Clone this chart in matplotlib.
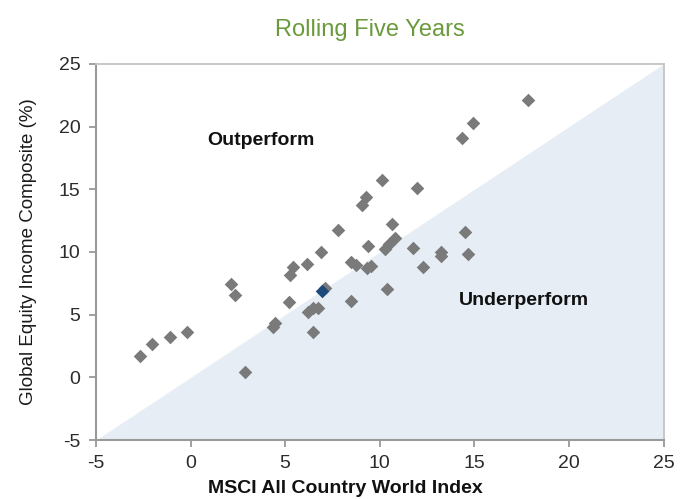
import numpy as np
import matplotlib
matplotlib.use('Agg')
import matplotlib.pyplot as plt

# MSCI ACWI (x) vs Global Equity Income Composite (y), rolling five-year returns (%)
msci = [-2.66, -2.04, -1.11, -0.16, 2.13, 2.35, 2.88, 4.35, 4.47, 5.23,
        5.26, 5.43, 6.13, 6.90, 7.77, 6.23, 6.49, 6.74, 6.49, 7.13,
        8.48, 8.48, 8.76, 9.30, 9.54, 9.40, 9.06, 9.25, 10.14, 10.27,
        10.51, 10.66, 10.80, 10.36, 11.95, 11.74, 12.30, 13.23, 13.23, 14.50,
        14.67, 14.36, 14.94, 17.84]
composite = [1.70, 2.66, 3.20, 3.62, 7.45, 6.60, 0.43, 4.00, 4.31, 6.05,
             8.17, 8.83, 9.05, 10.03, 11.76, 5.24, 5.51, 5.57, 3.62, 7.13,
             6.09, 9.23, 8.93, 8.70, 8.89, 10.50, 13.73, 14.39, 15.75, 10.24,
             10.64, 12.21, 11.15, 7.05, 15.14, 10.35, 8.78, 10.00, 9.69, 11.60,
             9.82, 19.05, 20.32, 22.13]

# highlighted (latest) period
latest_x = [6.97]
latest_y = [6.89]

ticks = [-5, 0, 5, 10, 15, 20, 25]

plt.rcParams['axes.unicode_minus'] = False
narrow = ['Liberation Sans Narrow', 'Liberation Sans', 'DejaVu Sans']
plain = ['Liberation Sans', 'DejaVu Sans']

fig = plt.figure(figsize=(6.8, 4.99), dpi=100)
ax = fig.add_axes([0.141, 0.118, 0.835, 0.754])

# shaded underperform triangle below the 45 degree line
diag = np.array([-5, 25])
ax.fill_between(diag, -5, diag, color='#e6edf5', linewidth=0, zorder=0)

ax.scatter(msci, composite, marker='D', s=48, color='#7a7a7a', linewidths=0, zorder=2)
ax.scatter(latest_x, latest_y, marker='D', s=48, color='#1d4a7c', linewidths=0, zorder=3)

ax.set_xlim(-5, 25)
ax.set_ylim(-5, 25)
ax.set_xticks(ticks)
ax.set_yticks(ticks)
ax.tick_params(axis='both', length=5, width=1.3, color='#999999', labelsize=14,
               labelcolor='#2b2b2b', pad=6)
for lab in ax.get_xticklabels() + ax.get_yticklabels():
    lab.set_family(narrow)

for side in ['left', 'bottom']:
    ax.spines[side].set_color('#9a9a9a')
    ax.spines[side].set_linewidth(1.5)
for side in ['top', 'right']:
    ax.spines[side].set_color('#c4c4c4')
    ax.spines[side].set_linewidth(1.3)

ax.set_ylabel('Global Equity Income Composite (%)', fontsize=13.5, family=plain,
              color='#1a1a1a', labelpad=16)

ax.text(3.7, 18.9, 'Outperform', fontsize=14, fontweight='bold', family=plain,
        ha='center', va='center', color='#111111')
ax.text(17.6, 6.1, 'Underperform', fontsize=14, fontweight='bold', family=plain,
        ha='center', va='center', color='#111111')

fig.text(0.544, 0.94, 'Rolling Five Years', fontsize=17, family=narrow,
         color='#6a9a3b', ha='center', va='center')
fig.text(0.508, 0.004, 'MSCI All Country World Index', fontsize=14, fontweight='bold',
         family=narrow, color='#111111', ha='center', va='bottom')

fig.savefig('out.png', dpi=100)
